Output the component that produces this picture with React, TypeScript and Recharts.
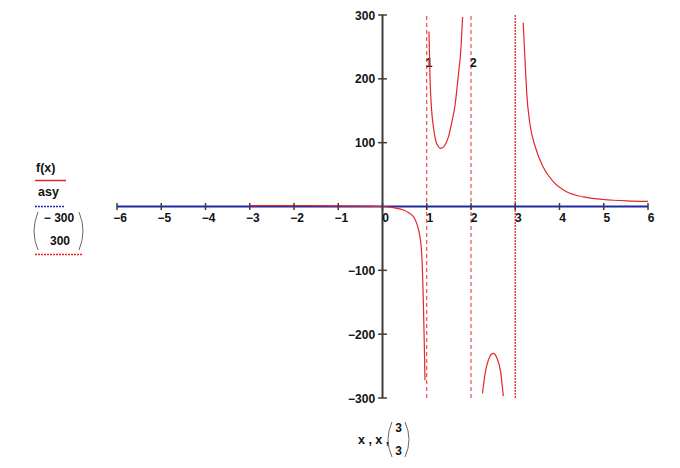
import { ComposedChart, Line, XAxis, YAxis, ReferenceLine } from "recharts";

const W = 680;
const H = 468;
const MARGIN = { top: 15, right: 32, bottom: 70, left: 117 };
const FONT = '"Liberation Sans", Arial, sans-serif';
const RED = "#e3262b";
const BLUE = "#1f2aa6";
const AXIS = "#3c3c3c";

// axis ticks
const xTicks = [-6, -5, -4, -3, -2, -1, 0, 1, 2, 3, 4, 5, 6];
const yTicks = [-300, -200, -100, 0, 100, 200, 300];
// x-axis markers (dashed, labelled at top)
const markers = [1, 2];

// f(x), one array per branch between asymptotes
const fLeft = [
  { x: -3, y: 1.5 },
  { x: -2, y: 1.3 },
  { x: -1, y: 1.0 },
  { x: -0.5, y: 0.6 },
  { x: 0, y: 0 },
  { x: 0.3, y: -2.5 },
  { x: 0.47, y: -5.5 },
  { x: 0.6, y: -10 },
  { x: 0.66, y: -13 },
  { x: 0.72, y: -18 },
  { x: 0.77, y: -26 },
  { x: 0.81, y: -35 },
  { x: 0.85, y: -49 },
  { x: 0.88, y: -68 },
  { x: 0.9, y: -95 },
  { x: 0.92, y: -140 },
  { x: 0.94, y: -200 },
  { x: 0.96, y: -272 },
];
const fMid = [
  { x: 1.05, y: 274 },
  { x: 1.073, y: 203 },
  { x: 1.11, y: 151 },
  { x: 1.15, y: 125 },
  { x: 1.2, y: 104 },
  { x: 1.26, y: 94 },
  { x: 1.32, y: 91 },
  { x: 1.41, y: 96 },
  { x: 1.49, y: 109 },
  { x: 1.56, y: 130 },
  { x: 1.64, y: 159 },
  { x: 1.71, y: 203 },
  { x: 1.77, y: 245 },
  { x: 1.81, y: 297 },
];
const fHump = [
  { x: 2.26, y: -293 },
  { x: 2.32, y: -261 },
  { x: 2.39, y: -241 },
  { x: 2.5, y: -230 },
  { x: 2.59, y: -238 },
  { x: 2.67, y: -259 },
  { x: 2.73, y: -297 },
];
const fRight = [
  { x: 3.18, y: 288 },
  { x: 3.22, y: 230 },
  { x: 3.26, y: 177 },
  { x: 3.33, y: 130 },
  { x: 3.45, y: 94 },
  { x: 3.63, y: 62 },
  { x: 3.86, y: 39 },
  { x: 4.16, y: 23 },
  { x: 4.54, y: 15 },
  { x: 4.99, y: 11 },
  { x: 5.52, y: 8.8 },
  { x: 6, y: 8 },
];

// asy vs x: horizontal line at 0
const asy = [
  { x: -6, y: 0 },
  { x: 6, y: 0 },
];
// (-300, 300) vs (3, 3): vertical trace at x = 3
const vertX = [3, 3];
const vertY = [-300, 300];
const vertical = vertX.map((x, i) => ({ x, y: vertY[i] }));

const TICK_Y = 5.5; // half tick length in y units
const TICK_X = 0.1; // half tick length in x units

const fmt = (v: number) => (v < 0 ? "\u2212" + Math.abs(v) : String(v));

const labelStyle = {
  fontFamily: FONT,
  fontSize: 12,
  fontWeight: 700,
  fill: "#111",
};

function Paren({ x, y1, y2, left }: { x: number; y1: number; y2: number; left: boolean }) {
  const bulge = left ? -4 : 4;
  return (
    <path
      d={`M ${x} ${y1} Q ${x + bulge * 2} ${(y1 + y2) / 2} ${x} ${y2}`}
      fill="none"
      stroke="#666"
      strokeWidth={1}
    />
  );
}

export default function App() {
  return (
    <div style={{ position: "absolute", left: 0, top: 0, width: W, height: H, background: "#fff" }}>
      <ComposedChart width={W} height={H} margin={MARGIN}>
        <XAxis type="number" dataKey="x" domain={[-6, 6]} allowDataOverflow hide />
        <YAxis type="number" dataKey="y" domain={[-300, 300]} allowDataOverflow hide />

        <ReferenceLine x={0} stroke={AXIS} strokeWidth={2} />
        {markers.map((m) => (
          <ReferenceLine
            key={"m" + m}
            x={m}
            stroke={RED}
            strokeWidth={1}
            strokeDasharray="4 3"
            label={(p: any) => (
              <text x={p.viewBox.x - 1} y={p.viewBox.y + 52} {...labelStyle}>
                {m}
              </text>
            )}
          />
        ))}

        <Line
          data={asy}
          dataKey="y"
          stroke={BLUE}
          strokeWidth={2}
          dot={false}
          activeDot={false}
          isAnimationActive={false}
        />
        <Line
          data={vertical}
          dataKey="y"
          stroke={RED}
          strokeWidth={1.3}
          strokeDasharray="2 1"
          dot={false}
          activeDot={false}
          isAnimationActive={false}
        />
        {[fLeft, fMid, fHump, fRight].map((d, i) => (
          <Line
            key={"f" + i}
            data={d}
            dataKey="y"
            type="monotone"
            stroke={RED}
            strokeWidth={1.2}
            dot={false}
            activeDot={false}
            isAnimationActive={false}
          />
        ))}

        {xTicks.map((t) => (
          <ReferenceLine
            key={"xt" + t}
            segment={[
              { x: t, y: -TICK_Y },
              { x: t, y: TICK_Y },
            ]}
            stroke={AXIS}
            strokeWidth={1.5}
            label={(p: any) => (
              <text
                x={p.viewBox.x + 3}
                y={p.viewBox.y + p.viewBox.height + 12}
                textAnchor="middle"
                {...labelStyle}
              >
                {fmt(t)}
              </text>
            )}
          />
        ))}
        {yTicks
          .filter((t) => t !== 0)
          .map((t) => (
            <ReferenceLine
              key={"yt" + t}
              segment={[
                { x: -TICK_X, y: t },
                { x: TICK_X, y: t },
              ]}
              stroke={AXIS}
              strokeWidth={1.5}
              label={(p: any) => (
                <text
                  x={p.viewBox.x - 3}
                  y={p.viewBox.y + 4.5}
                  textAnchor="end"
                  {...labelStyle}
                >
                  {fmt(t)}
                </text>
              )}
            />
          ))}
      </ComposedChart>

      <svg
        width={W}
        height={H}
        style={{ position: "absolute", left: 0, top: 0, pointerEvents: "none" }}
      >
        {/* y-axis trace legend */}
        <text x={36} y={172} {...labelStyle} fontSize={12.5}>
          f(x)
        </text>
        <line x1={35} x2={66} y1={180.5} y2={180.5} stroke={RED} strokeWidth={1.5} />
        <text x={38} y={196} {...labelStyle} fontSize={12.5}>
          asy
        </text>
        <line x1={35} x2={65} y1={206.5} y2={206.5} stroke={BLUE} strokeWidth={1.3} strokeDasharray="2 1" />
        <Paren x={38} y1={212} y2={250} left />
        <Paren x={79} y1={212} y2={250} left={false} />
        <text x={59} y={222} textAnchor="middle" {...labelStyle}>
          {"\u2212 300"}
        </text>
        <text x={60} y={245} textAnchor="middle" {...labelStyle}>
          300
        </text>
        <line x1={35} x2={82} y1={254.5} y2={254.5} stroke={RED} strokeWidth={1.3} strokeDasharray="2 1" />

        {/* x-axis trace legend */}
        <text x={358} y={444} {...labelStyle} fontSize={12.5}>
          x , x ,
        </text>
        <Paren x={392} y1={422} y2={457} left />
        <Paren x={405} y1={422} y2={457} left={false} />
        <text x={398.5} y={432} textAnchor="middle" {...labelStyle}>
          3
        </text>
        <text x={398.5} y={455} textAnchor="middle" {...labelStyle}>
          3
        </text>
      </svg>
    </div>
  );
}
